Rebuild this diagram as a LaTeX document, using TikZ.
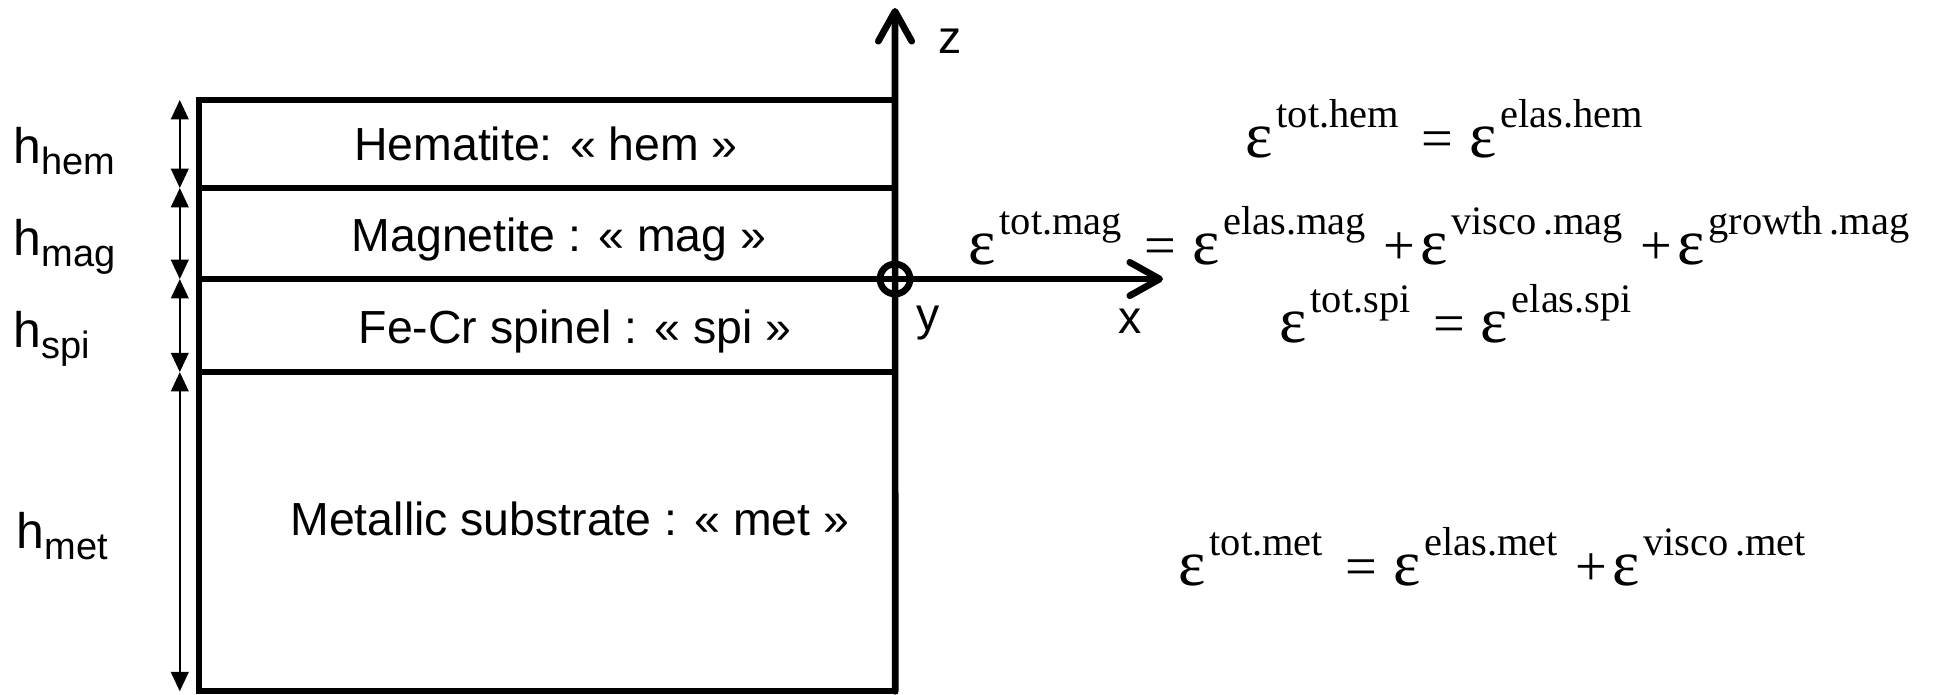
\documentclass[tikz,border=0pt]{standalone}
\usepackage{fontspec}
\setmainfont{Liberation Sans}
\newfontfamily\eqfont{Liberation Serif}
\usetikzlibrary{arrows.meta, positioning}

\newcommand{\hlab}[1]{{\fontsize{14.2}{17}\selectfont h}\raisebox{-3.4pt}{\fontsize{10.8}{13}\selectfont #1}}
\newcommand{\strain}[1]{{\fontsize{18.5}{20}\selectfont ε}\kern1pt\raisebox{8.5pt}{\fontsize{11.5}{14}\selectfont #1}}
\newcommand{\eqsign}{\kern6.5pt=\kern4.5pt}
\newcommand{\plussign}{\kern5pt+\kern1.5pt}

\begin{document}
\begin{tikzpicture}[
    x=0.01cm, y=-0.01cm,
    layer/.style = {
        rectangle,
        draw=black,
        line width=1.8pt,
        minimum width=6.96cm,
        inner sep=0pt,
        outer sep=0pt
    },
    layer text/.style = {anchor=base, font=\fontsize{13.2}{15}\selectfont},
    thickness label/.style = {anchor=base west, inner sep=0pt},
    dim arrow/.style = {{Triangle[length=5.5pt,width=5pt]}-{Triangle[length=5.5pt,width=5pt]}, line width=0.6pt},
    axis/.style = {-{Straight Barb[length=8.5pt,width=9.5pt,round]}, line width=1.9pt, line cap=round},
    axis label/.style = {anchor=base, inner sep=0pt, font=\fontsize{13.2}{15}\selectfont},
    strain eq/.style = {anchor=base west, inner sep=0pt, font=\eqfont\fontsize{16}{19}\selectfont}
]
\useasboundingbox (0,0) rectangle (1943,694);

% layers
\node [layer, minimum height=0.88cm] (hem) at (547,144) {};
\node [layer, minimum height=0.91cm, below=0pt of hem] (mag) {};
\node [layer, minimum height=0.93cm, below=0pt of mag] (spi) {};
\node [layer, minimum height=3.19cm, below=0pt of spi] (met) {};

\node [layer text] (hem text) at (546,160) {Hematite: « hem »};
\node [layer text] (mag text) at (559,251) {Magnetite : « mag »};
\node [layer text] (spi text) at (575,343) {Fe-Cr spinel : « spi »};
\node [layer text] (met text) at (570,535) {Metallic substrate : « met »};

% thicknesses
\draw[dim arrow] ([xshift=-0.19cm]hem.north west) -- ([xshift=-0.19cm]hem.south west);
\draw[dim arrow] ([xshift=-0.19cm]mag.north west) -- ([xshift=-0.19cm]mag.south west);
\draw[dim arrow] ([xshift=-0.19cm]spi.north west) -- ([xshift=-0.19cm]spi.south west);
\draw[dim arrow] ([xshift=-0.19cm]met.north west) -- ([xshift=-0.19cm]met.south west);

\node [thickness label] (h hem) at (13,163) {\hlab{hem}};
\node [thickness label] (h mag) at (13,255) {\hlab{mag}};
\node [thickness label] (h spi) at (13,347) {\hlab{spi}};
\node [thickness label] (h met) at (16,548) {\hlab{met}};

% axes
\coordinate (ztip) at (895,8);
\coordinate (xtip) at (1163,279);
\node [draw, circle, line width=1.9pt, minimum size=0.30cm, inner sep=0pt] (O) at (895,279) {};
\draw[axis] (met.south east) -- (ztip);
\draw[axis] (O.center) -- (xtip);

\node [axis label] (z label) at (950,53) {z};
\node [axis label] (y label) at (928,330) {y};
\node [axis label] (x label) at (1130,333) {x};

% strain partitions
\node [strain eq] (eq hem) at (1245,157) {\strain{tot.hem}\eqsign\strain{elas.hem}};
\node [strain eq] (eq mag) at (968,264) {\strain{tot.mag}\eqsign\strain{elas.mag}\plussign\strain{visco\,.mag}\plussign\strain{growth\,.mag}};
\node [strain eq] (eq spi) at (1279,342) {\strain{tot.spi}\eqsign\strain{elas.spi}};
\node [strain eq] (eq met) at (1178,585) {\strain{tot.met}\eqsign\strain{elas.met}\plussign\strain{visco\,.met}};

\end{tikzpicture}
\end{document}
